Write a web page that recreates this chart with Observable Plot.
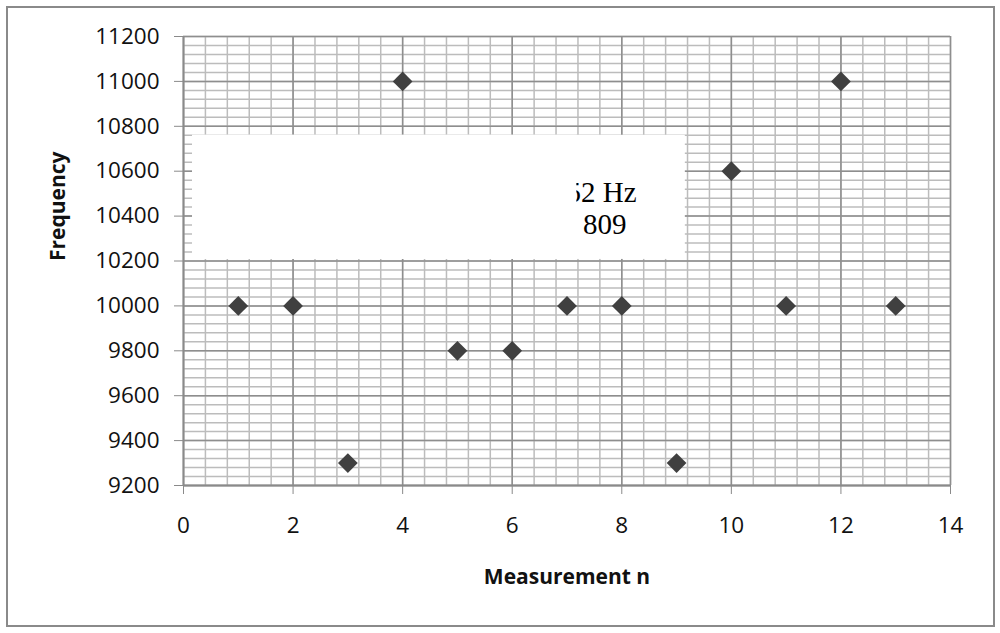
<!DOCTYPE html>
<html><head><meta charset="utf-8">
<script src="https://cdn.jsdelivr.net/npm/d3@7"></script>
<script src="https://cdn.jsdelivr.net/npm/@observablehq/plot@0.6"></script>
<style>
body{margin:0;background:#fff;}
#wrap{position:relative;width:1000px;height:633px;overflow:hidden;}
#border{position:absolute;left:6px;top:6px;width:985px;height:617px;border:2px solid #8a8a8a;pointer-events:none;}
</style></head><body><div id="wrap"><div id="border"></div></div>
<script>
const measurement = [1, 2, 3, 4, 5, 6, 7, 8, 9, 10, 11, 12, 13];
const frequency = [10000, 10000, 9300, 11000, 9800, 9800, 10000, 10000, 9300, 10600, 10000, 11000, 10000];
const xTicks = [0, 2, 4, 6, 8, 10, 12, 14];
const yTicks = [9200, 9400, 9600, 9800, 10000, 10200, 10400, 10600, 10800, 11000, 11200];
const xLabel = "Measurement n";
const yLabel = "Frequency";
const boxText = ["52 Hz", "809"];
// partially hidden text box (in data units)
const box = [{x1: 0.165, x2: 9.16, y1: 10207, y2: 10760}];
const boxCover = [{x1: 0.165, x2: 7.18, y1: 10207, y2: 10760}];
const boxTextPos = [{x: 6.99, y: 10503}, {x: 7.29, y: 10362}];

const points = measurement.map((m, i) => ({m, f: frequency[i]}));
const minorX = d3.range(0, 14.0001, 0.4);
const minorY = d3.range(9200, 11200.1, 40);

const chart = Plot.plot({
  width: 1000, height: 633,
  marginLeft: 183, marginRight: 50, marginTop: 36, marginBottom: 148,
  style: {fontFamily: "Open Sans", fontSize: "22.5px", color: "#111", background: "transparent"},
  x: {domain: [0, 14]},
  y: {domain: [9200, 11200]},
  marks: [
    Plot.ruleX(minorX, {stroke: "#bcbcbc", strokeWidth: 1.5}),
    Plot.ruleY(minorY, {stroke: "#bcbcbc", strokeWidth: 1.5}),
    Plot.ruleX(xTicks, {stroke: "#8e8e8e", strokeWidth: 1.5}),
    Plot.ruleY(yTicks, {stroke: "#8e8e8e", strokeWidth: 1.5}),
    Plot.rect(box, {x1: "x1", x2: "x2", y1: "y1", y2: "y2", fill: "white"}),
    Plot.text(boxText, {x: (d, i) => boxTextPos[i].x, y: (d, i) => boxTextPos[i].y, text: d => d,
      textAnchor: "start", fontFamily: "Liberation Serif", fontSize: 29, fill: "#000"}),
    Plot.rect(boxCover, {x1: "x1", x2: "x2", y1: "y1", y2: "y2", fill: "white"}),
    Plot.ruleX([0], {stroke: "#8a8a8a", strokeWidth: 1.8}),
    Plot.ruleY([9200], {stroke: "#8a8a8a", strokeWidth: 1.8}),
    Plot.axisX({ticks: xTicks, tickSize: 9, tickPadding: 23, stroke: "#8a8a8a", fill: "#111", label: null, tickFormat: d => String(d)}),
    Plot.axisY({ticks: yTicks, tickSize: 9, tickPadding: 15, stroke: "#8a8a8a", fill: "#111", label: null, tickFormat: d => String(d)}),
    Plot.dot(points, {x: "m", y: "f", symbol: "diamond2", r: 8.9, fill: "#404040", stroke: "none"}),
    Plot.text([xLabel], {text: d => d, frameAnchor: "bottom", dy: 98, fontWeight: "bold", fontSize: 21, letterSpacing: "0.6px", wordSpacing: "6px", fill: "#111"}),
    Plot.text([yLabel], {text: d => d, frameAnchor: "left", dx: -125, rotate: -90, fontWeight: "bold", fontSize: 21, letterSpacing: "0.6px", fill: "#111"})
  ]
});
document.getElementById("wrap").insertBefore(chart, document.getElementById("border"));
</script>
</body></html>
